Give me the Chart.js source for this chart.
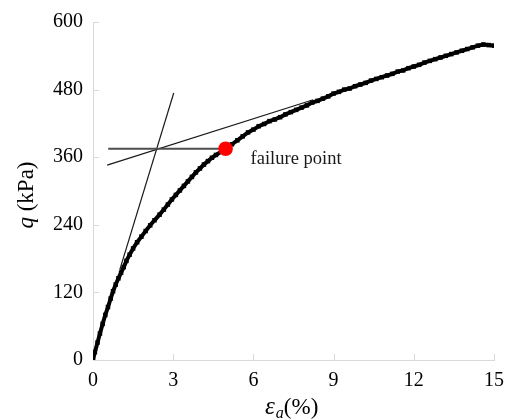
<!DOCTYPE html>
<html>
<head>
<meta charset="utf-8">
<script src="https://cdn.jsdelivr.net/npm/chart.js@4.4.1/dist/chart.umd.min.js"></script>
<style>
  html,body{margin:0;padding:0;background:#fff;}
  #wrap{width:513px;height:419px;}
</style>
</head>
<body>
<div id="wrap"><canvas id="chart" width="513" height="419"></canvas></div>
<script>
// --- data ---
const strain = [0,0.07,0.17,0.26,0.36,0.46,0.56,0.66,0.75,0.85,0.95,1.05,1.15,1.25,1.37,1.5,1.65,1.81,1.97,2.14,2.3,2.49,2.65,
  2.8,2.95,3.1,3.25,3.4,3.55,3.7,3.85,4.0,4.15,4.3,4.45,4.6,4.8,5.0,5.2,5.4,5.6,5.8,6.0,6.2,6.4,6.6,6.8,7.0,7.2,7.4,7.6,7.8,
  8.0,8.2,8.4,8.6,8.8,9.0,9.2,9.4,9.6,9.8,10.0,10.2,10.4,10.6,10.8,11.0,11.2,11.4,11.6,11.8,12.0,12.2,12.4,12.6,12.8,13.0,
  13.2,13.4,13.6,13.8,14.0,14.2,14.4,14.6,14.8,15.0,15.05];
const stress = [0,14,31,47,64,80,94,109,122,134,145,155,165,176,187,198,209,219,229,239,248,258,267,
  276,285,293,301,309,317,325,333,340,347,353,359,364,370,376,383,390,397,404,409,415,419,424,427,431,436,440,444,448,
  452,457,460,464,468,473,476,480,482,486,489,492,496,499,502,505,508,512,514,518,521,524,528,531,534,537,
  540,543,546,549,552,555,558,560,559,558,557];

const tangentX = [1.0, 3.02];
const tangentY = [160, 474];
const secantX = [0.53, 8.24];
const secantY = [346, 462];
const levelX = [0.57, 4.96];
const levelY = [375, 375];
const failX = [4.96];
const failY = [375];

const xTicks = [0,3,6,9,12,15];
const yTicks = [0,120,240,360,480,600];

const pts = (xs, ys) => xs.map((x,i)=>({x, y:ys[i]}));
const SERIF = '"Liberation Serif", "DejaVu Serif", serif';

// --- inward tick marks, titles and label ---
const decor = {
  id:'decor',
  afterDraw(chart){
    const {ctx, scales:{x, y}, chartArea:a} = chart;
    ctx.save();
    ctx.strokeStyle = '#d9d9d9';
    ctx.lineWidth = 1;
    ctx.beginPath();
    xTicks.slice(1).forEach(v=>{
      const px = Math.round(x.getPixelForValue(v)) + 0.5;
      ctx.moveTo(px, a.bottom); ctx.lineTo(px, a.bottom - 6);
    });
    yTicks.slice(1).forEach(v=>{
      const py = Math.round(y.getPixelForValue(v)) + 0.5;
      ctx.moveTo(a.left, py); ctx.lineTo(a.left + 6, py);
    });
    ctx.stroke();

    // failure point label
    ctx.fillStyle = '#1a1a1a';
    ctx.font = '18.5px ' + SERIF;
    ctx.textBaseline = 'middle';
    ctx.fillText('failure point', x.getPixelForValue(failX[0]) + 25, y.getPixelForValue(failY[0]) + 10);

    // x title: eps_a(%)
    ctx.fillStyle = '#000';
    ctx.textBaseline = 'alphabetic';
    let cx = 265, by = 414;
    ctx.font = 'italic 25px ' + SERIF;
    ctx.fillText('\u03b5', cx, by); cx += ctx.measureText('\u03b5').width + 1;
    ctx.font = 'italic 16px ' + SERIF;
    ctx.fillText('a', cx, by + 4); cx += ctx.measureText('a').width;
    ctx.font = '23px ' + SERIF;
    ctx.fillText('(%)', cx, by);

    // y title: q (kPa)
    ctx.translate(33, 195);
    ctx.rotate(-Math.PI/2);
    ctx.font = 'italic 23px ' + SERIF;
    const w1 = ctx.measureText('q ').width;
    ctx.font = '23px ' + SERIF;
    const w2 = ctx.measureText('(kPa)').width;
    let tx = -(w1 + w2)/2;
    ctx.font = 'italic 23px ' + SERIF;
    ctx.fillText('q ', tx, 0);
    ctx.font = '23px ' + SERIF;
    ctx.fillText('(kPa)', tx + w1, 0);
    ctx.restore();
  }
};

new Chart(document.getElementById('chart'),{
  type:'scatter',
  data:{ datasets:[
    { data:pts(failX, failY), pointRadius:7.3, pointBackgroundColor:'#ff0000', pointBorderWidth:0, showLine:false },
    { data:pts(strain, stress), showLine:true, borderColor:'#000', borderWidth:4, pointStyle:'rect',
      pointRadius:3.2, pointBackgroundColor:'#000', pointBorderWidth:0 },
    { data:pts(levelX, levelY), showLine:true, borderColor:'#4d4d4d', borderWidth:2, pointRadius:0 },
    { data:pts(tangentX, tangentY), showLine:true, borderColor:'#1a1a1a', borderWidth:1.2, pointRadius:0 },
    { data:pts(secantX, secantY), showLine:true, borderColor:'#1a1a1a', borderWidth:1.2, pointRadius:0 }
  ]},
  options:{
    responsive:false,
    animation:false,
    events:[],
    layout:{ padding:{ top:17, right:16, left:0, bottom:0 } },
    plugins:{ legend:{display:false}, tooltip:{enabled:false} },
    scales:{
      x:{ type:'linear', min:0, max:15,
        afterBuildTicks: s=>{ s.ticks = xTicks.map(v=>({value:v})); },
        afterFit: s=>{ s.height = 59; },
        grid:{ drawOnChartArea:false, drawTicks:false },
        border:{ color:'#d9d9d9', width:1 },
        ticks:{ padding:9, color:'#000', font:{ family:SERIF, size:20 } } },
      y:{ type:'linear', min:0, max:600,
        afterBuildTicks: s=>{ s.ticks = yTicks.map(v=>({value:v})); },
        afterFit: s=>{ s.width = 93; },
        grid:{ drawOnChartArea:false, drawTicks:false },
        border:{ color:'#d9d9d9', width:1 },
        ticks:{ padding:10, color:'#000', font:{ family:SERIF, size:20 } } }
    }
  },
  plugins:[decor]
});
</script>
</body>
</html>
